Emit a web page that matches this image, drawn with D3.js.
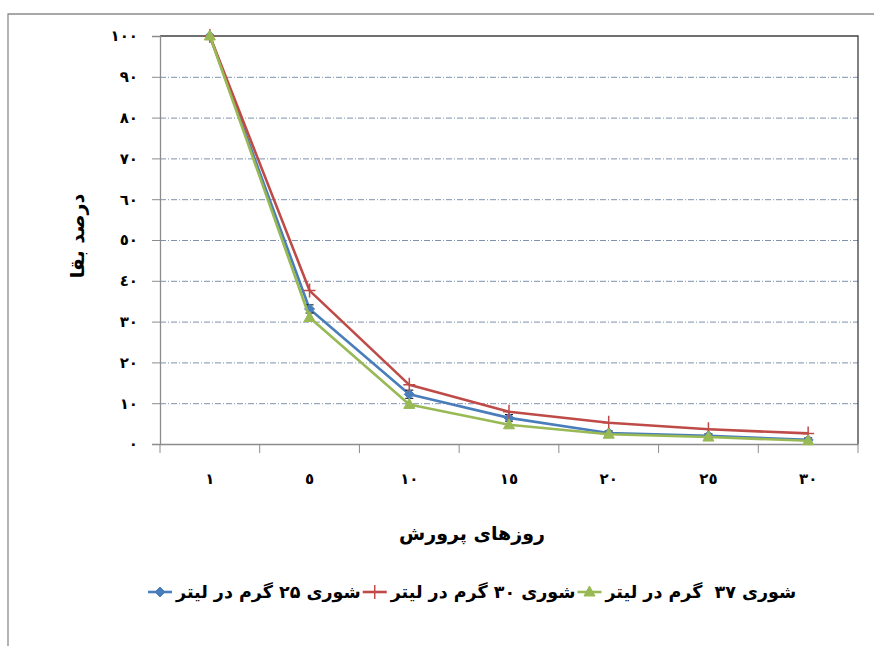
<!DOCTYPE html>
<html>
<head>
<meta charset="utf-8">
<script src="https://cdn.jsdelivr.net/npm/d3@7"></script>
<style>
  html, body { margin: 0; padding: 0; background: #fff; }
  svg { display: block; }
  text { font-family: "DejaVu Sans", sans-serif; font-weight: bold; fill: #000; white-space: pre; }
</style>
</head>
<body>
<svg id="chart" width="874" height="646"></svg>
<script>
// ---- data ----
const categories = ["١", "٥", "١٠", "١٥", "٢٠", "٢٥", "٣٠"];
const yTickValues = [0, 10, 20, 30, 40, 50, 60, 70, 80, 90, 100];
const yTickLabels = ["٠", "١٠", "٢٠", "٣٠", "٤٠", "٥٠", "٦٠", "٧٠", "٨٠", "٩٠", "١٠٠"];
const salinity25 = [100, 33.1, 12.2, 6.4, 2.7, 2.0, 1.0];
const salinity30 = [100, 37.6, 14.5, 7.9, 5.2, 3.6, 2.6];
const salinity37 = [100, 31.0, 9.7, 4.7, 2.4, 1.7, 0.8];
const salinity25Err = [0, 1, 1, 0.8, 0.5, 0.5, 0.5];
const seriesNames = ["شوری ۲۵ گرم در لیتر", "شوری ۳۰ گرم در لیتر", "شوری ۳۷  گرم در لیتر"];
const xTitle = "روزهای پرورش";
const yTitle = "درصد بقا";

const series = [
  { name: seriesNames[0], values: salinity25, color: "#4A7EBB", marker: "diamond", err: salinity25Err },
  { name: seriesNames[1], values: salinity30, color: "#BE4B48", marker: "plus" },
  { name: seriesNames[2], values: salinity37, color: "#98B954", marker: "triangle" }
];

const svg = d3.select("#chart");
const plot = { left: 160, right: 858, top: 36, bottom: 444 };

// outer chart border (top & left)
svg.append("path").attr("d", "M8,646V14H874").attr("fill", "none").attr("stroke", "#8c8c8c").attr("stroke-width", 1.3);

const x = d3.scaleBand().domain(categories).range([plot.left, plot.right]).padding(0);
const y = d3.scaleLinear().domain([0, 100]).range([plot.bottom, plot.top]);

// gridlines
svg.append("g").selectAll("line").data(yTickValues.filter(v => v > 0 && v < 100)).join("line")
  .attr("x1", plot.left).attr("x2", plot.right)
  .attr("y1", d => y(d) + 0.5).attr("y2", d => y(d) + 0.5)
  .attr("stroke", "#7f93ad").attr("stroke-width", 1).attr("stroke-dasharray", "6,2,1,2");

// plot area top & right border
svg.append("path")
  .attr("d", `M${plot.left},${y(100)}H${plot.right}V${plot.bottom}`)
  .attr("fill", "none").attr("stroke", "#404040").attr("stroke-width", 1.3);

// y axis
const yAxis = d3.axisLeft(y).tickValues(yTickValues).tickSize(8).tickPadding(14)
  .tickFormat((d, i) => yTickLabels[i]);
const gy = svg.append("g").attr("transform", `translate(${plot.left},0)`).call(yAxis);
gy.select(".domain").attr("stroke", "#8c8c8c").attr("stroke-width", 1.3);
gy.selectAll(".tick line").attr("stroke", "#8c8c8c");
gy.selectAll(".tick text").attr("font-size", 15).attr("font-family", "DejaVu Sans").attr("font-weight", "bold").attr("fill", "#000");

// x axis: ticks at band boundaries
const xAxis = d3.axisBottom(x).tickSize(0).tickPadding(29);
const gx = svg.append("g").attr("transform", `translate(0,${plot.bottom})`).call(xAxis);
gx.select(".domain").attr("stroke", "#8c8c8c").attr("stroke-width", 1.3);
gx.selectAll(".tick text").attr("font-size", 15).attr("font-family", "DejaVu Sans").attr("font-weight", "bold").attr("fill", "#000");
const boundaries = categories.map(c => x(c)).concat([x(categories[categories.length - 1]) + x.bandwidth()]);
gx.selectAll("line.bt").data(boundaries).join("line").attr("class", "bt")
  .attr("x1", d => d).attr("x2", d => d).attr("y1", 0).attr("y2", 9)
  .attr("stroke", "#8c8c8c").attr("stroke-width", 1);

// titles
svg.append("text").attr("x", 472).attr("y", 540).attr("text-anchor", "middle")
  .attr("font-size", 19).text(xTitle);
svg.append("text").attr("transform", "translate(84,236) rotate(-90)").attr("text-anchor", "middle")
  .attr("font-size", 19).text(yTitle);

// lines
const cx = (i) => x(categories[i]) + x.bandwidth() / 2;
const line = d3.line().x((d, i) => cx(i)).y(d => y(d));

function markerPath(type) {
  if (type === "diamond") return "M0,-5L5,0L0,5L-5,0Z";
  if (type === "triangle") return "M0,-6L5.5,4L-5.5,4Z";
  return "M-6,0H6M0,-7V7";
}

series.forEach(s => {
  const g = svg.append("g");
  g.append("path").datum(s.values).attr("d", line)
    .attr("fill", "none").attr("stroke", s.color).attr("stroke-width", 2.6).attr("stroke-linejoin", "round");
  if (s.err) {
    g.selectAll("path.err").data(s.values).join("path").attr("class", "err")
      .attr("d", (d, i) => s.err[i] > 0 ?
        `M${cx(i) - 4},${y(d + s.err[i])}H${cx(i) + 4}M${cx(i) - 4},${y(d - s.err[i])}H${cx(i) + 4}` : "")
      .attr("stroke", "#000").attr("stroke-width", 1).attr("fill", "none");
  }
  g.selectAll("path.mk").data(s.values).join("path").attr("class", "mk")
    .attr("transform", (d, i) => `translate(${cx(i)},${y(d)})`)
    .attr("d", markerPath(s.marker))
    .attr("fill", s.marker === "plus" ? "none" : s.color)
    .attr("stroke", s.color).attr("stroke-width", s.marker === "plus" ? 1.5 : 1);
});

// legend
const legend = svg.append("g");
let cursor = 148;
const ly = 592;
series.forEach(s => {
  const e = legend.append("g");
  e.append("line").attr("x1", cursor).attr("x2", cursor + 24).attr("y1", ly).attr("y2", ly)
    .attr("stroke", s.color).attr("stroke-width", 2.6);
  e.append("path").attr("transform", `translate(${cursor + 12},${ly})`).attr("d", markerPath(s.marker))
    .attr("fill", s.marker === "plus" ? "none" : s.color).attr("stroke", s.color)
    .attr("stroke-width", s.marker === "plus" ? 1.5 : 1);
  const t = e.append("text").attr("x", cursor + 28).attr("y", ly + 6).attr("font-size", 17.5)
    .attr("text-anchor", "start").text(s.name);
  cursor += 28 + t.node().getComputedTextLength() + 2;
});
</script>
</body>
</html>
